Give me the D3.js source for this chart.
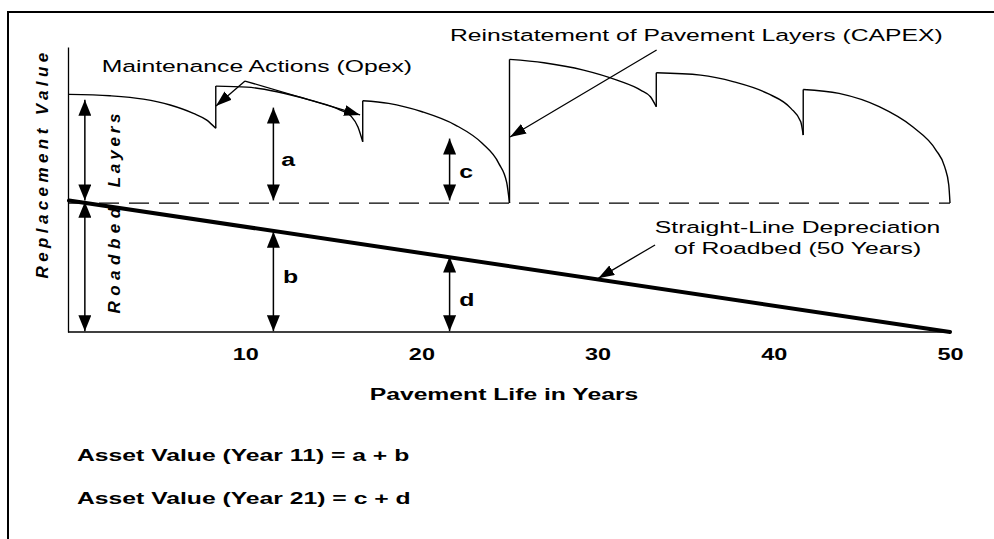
<!DOCTYPE html>
<html><head><meta charset="utf-8">
<script src="https://cdn.jsdelivr.net/npm/d3@7"></script>
<style>
html,body{margin:0;padding:0;background:#fff;}
svg{display:block;font-family:"Liberation Sans",Arial,sans-serif;}
</style></head><body>
<svg id="chart" width="994" height="539"></svg>
<script>
// ---- data (years, value units; roadbed full value = 100) ----
const xTicks = [10, 20, 30, 40, 50];
const layerSeg1 = [[0,184.3],[2.33,183.2],[4.22,180.6],[5.74,176],[7.06,169.5],[7.82,164.3],[8.33,157.9]];
const layerSeg2 = [[8.33,190.7],[10.1,189.9],[11.8,186.3],[13.7,179.8],[15.4,172.1],[16.0,167.5],[16.4,159],[16.67,147.5]];
const layerSeg3 = [[16.67,179.3],[18.14,177.3],[20.04,170.8],[21.93,160.5],[23.45,146.3],[24.39,130.8],[24.84,116],[25,100]];
const layerSeg4 = [[25,211.4],[26.95,208.8],[29.2,203.1],[31.1,195.3],[32.44,187.6],[33.0,182.4],[33.33,174.7]];
const layerSeg5 = [[33.33,201],[35.85,199.2],[37.74,194],[39.64,185],[40.97,173.4],[41.53,163],[41.67,152.7]];
const layerSeg6 = [[41.67,188.1],[43.7,185],[45.98,174.7],[47.88,159.1],[49.2,141.1],[49.7,128],[49.93,114],[50,100]];
const roadbedLine = [[0,102],[50,0]];
const roadbedLevel = [[0,100],[50,100]];
const measureArrows = [
  {year:0.9, from:102, to:180},
  {year:0.9, from:0.6, to:101},
  {year:11.6, from:102, to:174},
  {year:11.6, from:0.6, to:77.8},
  {year:21.6, from:102, to:150},
  {year:21.6, from:0.6, to:58.5}
];
const measureLabels = [
  {text:"a", year:12.05, value:129},
  {text:"b", year:12.15, value:38},
  {text:"c", year:22.15, value:119.4},
  {text:"d", year:22.15, value:20.2}
];
const pointers = [
  {from:[9.99,194.6], to:[8.34,175.2]},
  {from:[9.99,194.6], to:[16.52,168.3]},
  {from:[33.35,218.7], to:[25.03,151.2]},
  {from:[33.26,67.5], to:[30.04,41.6]}
];
const notes = [
  {text:"Maintenance Actions (Opex)", year:1.856, value:201.8, anchor:"start"},
  {text:"Reinstatement of Pavement Layers (CAPEX)", year:21.62, value:225.9, anchor:"start"},
  {text:"Straight-Line Depreciation", year:41.35, value:76.5, anchor:"middle"},
  {text:"of Roadbed (50 Years)", year:41.35, value:60.5, anchor:"middle"}
];
const xTitle = "Pavement Life in Years";
const yTitle = "Replacement Value";
const formulas = ["Asset Value (Year 11) = a + b", "Asset Value (Year 21) = c + d"];

// ---- drawing ----
const SX = 1.42;
const svg = d3.select("#chart");
const x = d3.scaleLinear().domain([0,50]).range([69,950]);
const y = d3.scaleLinear().domain([0,221]).range([332,47]);

// frame
svg.append("line").attr("x1",8).attr("y1",12).attr("x2",994).attr("y2",12).attr("stroke","#000").attr("stroke-width",2);
svg.append("line").attr("x1",8).attr("y1",11).attr("x2",8).attr("y2",539).attr("stroke","#000").attr("stroke-width",2);

const defs = svg.append("defs");
defs.append("marker").attr("id","mh").attr("markerUnits","userSpaceOnUse")
  .attr("viewBox","0 0 16 13").attr("markerWidth",16).attr("markerHeight",13)
  .attr("refX",16).attr("refY",6.5).attr("orient","auto-start-reverse")
  .append("path").attr("d","M0,0L16,6.5L0,13Z").attr("fill","#000");
defs.append("marker").attr("id","ph").attr("markerUnits","userSpaceOnUse")
  .attr("viewBox","0 0 16 11").attr("markerWidth",16).attr("markerHeight",11)
  .attr("refX",16).attr("refY",5.5).attr("orient","auto")
  .append("path").attr("d","M0,0L16,5.5L0,11Z").attr("fill","#000");

// axes
const xAxis = d3.axisBottom(x).tickValues(xTicks).tickSize(0).tickFormat(d3.format("d"));
const gx = svg.append("g").attr("transform",`translate(0,${y(0)})`).call(xAxis);
gx.select(".domain").attr("stroke","#000").attr("stroke-width",1.3).attr("d",`M${x(0)-1},0H${x(50)+1}`);
gx.selectAll(".tick text").attr("y",28).attr("dy",0).attr("fill","#000")
  .style("font-family",'"Liberation Sans",Arial,sans-serif').style("font-size","16.5px").style("font-weight","bold")
  .attr("transform",`scale(${SX},1)`);
const yAxis = d3.axisLeft(y).tickValues([]).tickSize(0);
const gy = svg.append("g").attr("transform",`translate(${x(0)-1},0)`).call(yAxis);
gy.select(".domain").attr("stroke","#000").attr("stroke-width",1.3);

// roadbed level dashed
const lineLin = d3.line().x(d=>x(d[0])).y(d=>y(d[1]));
svg.append("path").attr("d",lineLin(roadbedLevel)).attr("fill","none").attr("stroke","#000")
  .attr("stroke-width",1.3).attr("stroke-dasharray","20,10");

// layer curves
const segs = [layerSeg1,layerSeg2,layerSeg3,layerSeg4,layerSeg5,layerSeg6];
const lineCurve = d3.line().x(d=>x(d[0])).y(d=>y(d[1])).curve(d3.curveMonotoneX);
segs.forEach((s,i)=>{
  svg.append("path").attr("d",lineCurve(s)).attr("fill","none").attr("stroke","#000").attr("stroke-width",1.4);
  if(i>0){
    const prev = segs[i-1][segs[i-1].length-1];
    svg.append("path").attr("d",lineLin([[s[0][0],prev[1]],s[0]])).attr("fill","none").attr("stroke","#000").attr("stroke-width",1.4);
  }
});

// roadbed depreciation
svg.append("path").attr("d",lineLin(roadbedLine)).attr("fill","none").attr("stroke","#000")
  .attr("stroke-width",4).attr("stroke-linecap","round");

// measurement arrows
measureArrows.forEach(a=>{
  svg.append("line").attr("x1",x(a.year)).attr("x2",x(a.year)).attr("y1",y(a.from)).attr("y2",y(a.to))
    .attr("stroke","#000").attr("stroke-width",1.5)
    .attr("marker-start","url(#mh)").attr("marker-end","url(#mh)");
});
measureLabels.forEach(l=>{
  svg.append("text").attr("transform",`translate(${x(l.year)},${y(l.value)}) scale(${SX},1)`)
    .attr("font-size",17.5).attr("font-weight","bold").text(l.text);
});

// pointers
pointers.forEach(p=>{
  svg.append("line").attr("x1",x(p.from[0])).attr("y1",y(p.from[1])).attr("x2",x(p.to[0])).attr("y2",y(p.to[1]))
    .attr("stroke","#000").attr("stroke-width",1.3).attr("marker-end","url(#ph)");
});
notes.forEach(n=>{
  svg.append("text").attr("transform",`translate(${x(n.year)},${y(n.value)}) scale(${SX},1)`)
    .attr("text-anchor",n.anchor).attr("font-size",17.4).text(n.text);
});

// titles
svg.append("text").attr("transform",`translate(504,400) scale(${SX},1)`).attr("text-anchor","middle")
  .attr("font-size",17.4).attr("font-weight","bold").text(xTitle);
svg.append("text").attr("transform","translate(48,163.5) rotate(-90)").attr("text-anchor","middle")
  .attr("font-size",17).attr("font-weight","bold").attr("font-style","italic").attr("letter-spacing",4.4).text(yTitle);
svg.append("text").attr("transform","translate(120,148.5) rotate(-90)").attr("text-anchor","middle")
  .attr("font-size",17).attr("font-weight","bold").attr("font-style","italic").attr("letter-spacing",3.8).text("Layers");
svg.append("text").attr("transform","translate(120,258) rotate(-90)").attr("text-anchor","middle")
  .attr("font-size",17).attr("font-weight","bold").attr("font-style","italic").attr("letter-spacing",5.5).text("Roadbed");

formulas.forEach((f,i)=>{
  svg.append("text").attr("transform",`translate(77,${461+i*43}) scale(${SX},1)`)
    .attr("font-size",17.4).attr("font-weight","bold").text(f);
});
</script>
</body></html>
